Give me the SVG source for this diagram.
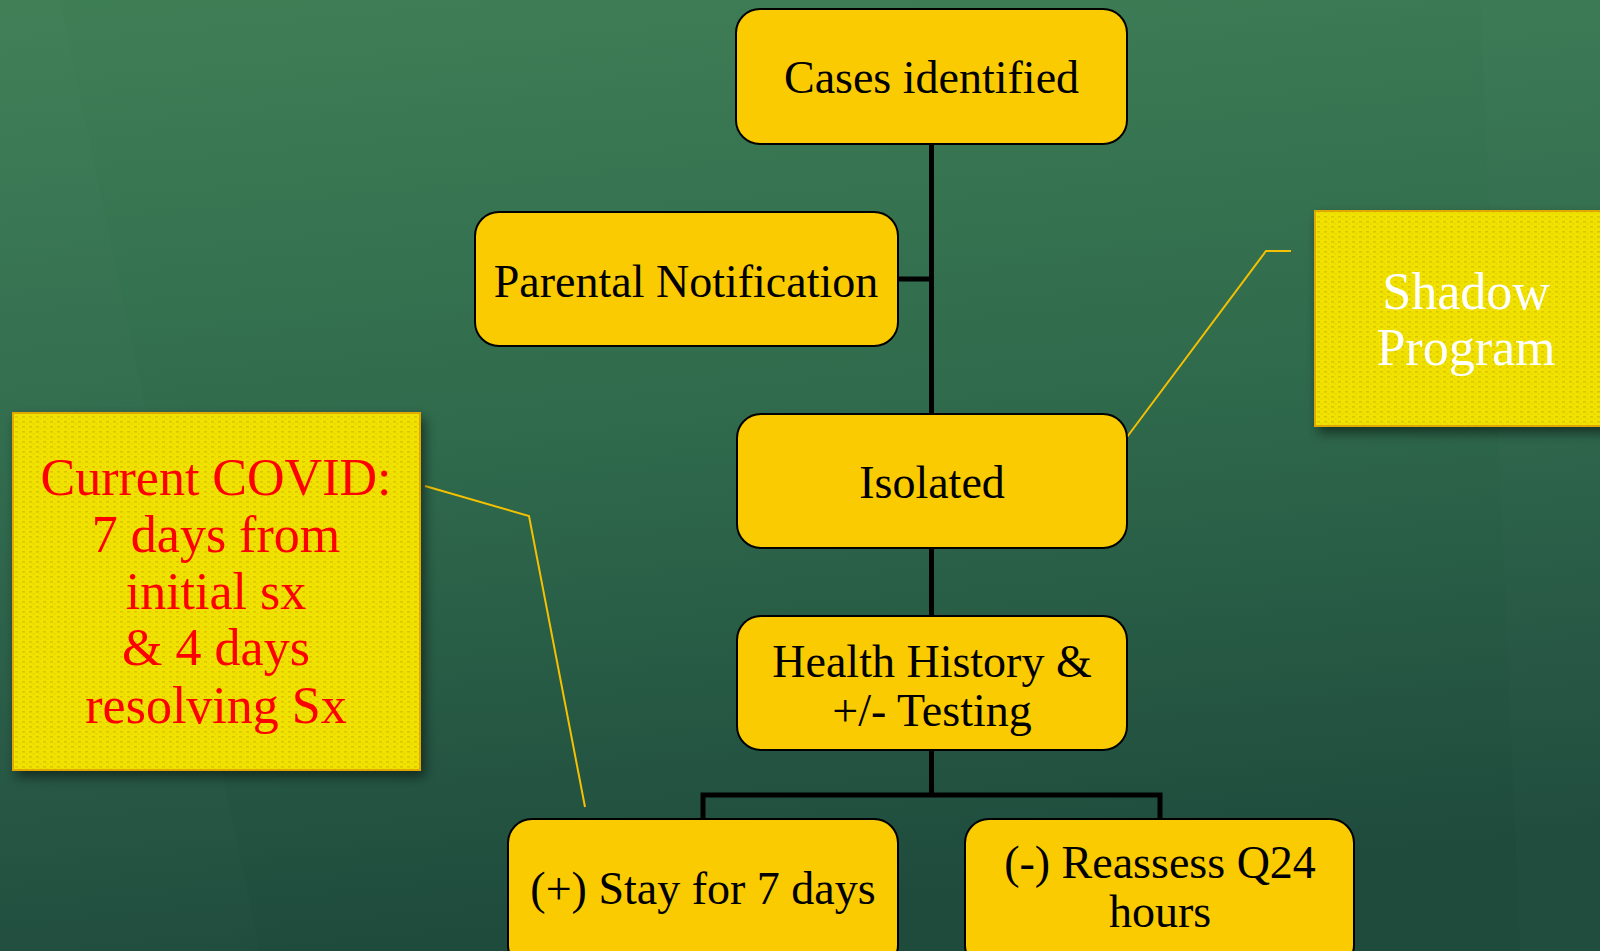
<svg xmlns="http://www.w3.org/2000/svg" width="1600" height="951" viewBox="0 0 1600 951">
  <defs>
    <linearGradient id="bg" x1="0" y1="0" x2="0.15" y2="1">
      <stop offset="0" stop-color="#3f7f56"/>
      <stop offset="0.5" stop-color="#2f6a4c"/>
      <stop offset="1" stop-color="#1f4b3d"/>
    </linearGradient>
    <pattern id="weave" width="7" height="5" patternUnits="userSpaceOnUse">
      <rect width="7" height="5" fill="#f1e300"/>
      <rect x="1" y="1" width="3" height="1.6" fill="#d4b000" opacity="0.6"/>
      <rect x="4.5" y="3.3" width="2" height="1.2" fill="#dcbc00" opacity="0.5"/>
    </pattern>
    <filter id="shadow" x="-10%" y="-10%" width="130%" height="130%">
      <feDropShadow dx="4" dy="6" stdDeviation="6" flood-color="#000" flood-opacity="0.5"/>
    </filter>
    <style>
      .box { fill: #facb00; stroke: #000; stroke-width: 2; }
      .t { font-family: "Liberation Serif", "Times New Roman", serif; font-size: 46px; fill: #000; text-anchor: middle; }
      .note { fill: url(#weave); stroke: #e0a800; stroke-width: 2; filter: url(#shadow); }
      .nt { font-family: "Liberation Serif", "Times New Roman", serif; font-size: 52px; text-anchor: middle; }
      .conn { stroke: #000; stroke-width: 5; fill: none; }
      .call { stroke: #f5c000; stroke-width: 2; fill: none; }
    </style>
  </defs>

  <rect width="1600" height="951" fill="url(#bg)"/>
  <polygon points="0,0 60,0 260,951 0,951" fill="#ffffff" opacity="0.012"/>
  <polygon points="1480,0 1600,0 1600,951 1520,951" fill="#ffffff" opacity="0.01"/>

  <g id="connectors">
    <line class="conn" x1="931.5" y1="144" x2="931.5" y2="414"/>
    <line class="conn" x1="898" y1="279" x2="931.5" y2="279"/>
    <line class="conn" x1="931.5" y1="548" x2="931.5" y2="616"/>
    <polyline class="conn" points="931.5,750 931.5,795"/>
    <polyline class="conn" points="703,819 703,795 1160,795 1160,819"/>
    <polyline class="call" points="1291,251 1266,251 1127,437"/>
    <polyline class="call" points="425,486 529,516 585,807"/>
  </g>

  <g id="cases">
    <rect class="box" x="736" y="9" width="391" height="135" rx="24"/>
    <text class="t" x="931.5" y="93">Cases identified</text>
  </g>
  <g id="parental">
    <rect class="box" x="475" y="212" width="423" height="134" rx="24"/>
    <text class="t" x="686" y="297">Parental Notification</text>
  </g>
  <g id="isolated">
    <rect class="box" x="737" y="414" width="390" height="134" rx="24"/>
    <text class="t" x="932" y="498">Isolated</text>
  </g>
  <g id="health">
    <rect class="box" x="737" y="616" width="390" height="134" rx="24"/>
    <text class="t" x="932" y="677">Health History &amp;</text>
    <text class="t" x="932" y="726">+/- Testing</text>
  </g>
  <g id="stay">
    <rect class="box" x="508" y="819" width="390" height="150" rx="24"/>
    <text class="t" x="703" y="904">(+) Stay for 7 days</text>
  </g>
  <g id="reassess">
    <rect class="box" x="965" y="819" width="389" height="150" rx="24"/>
    <text class="t" x="1160" y="878">(-) Reassess Q24</text>
    <text class="t" x="1160" y="927">hours</text>
  </g>
  <g id="shadow-program">
    <rect class="note" x="1315" y="211" width="300" height="215"/>
    <text class="nt" x="1466" y="309" fill="#ffffff">Shadow</text>
    <text class="nt" x="1466" y="365" fill="#ffffff">Program</text>
  </g>
  <g id="current-covid">
    <rect class="note" x="13" y="413" width="407" height="357"/>
    <text class="nt" x="216" y="495" fill="#ff0000">Current COVID:</text>
    <text class="nt" x="216" y="552" fill="#ff0000">7 days from</text>
    <text class="nt" x="216" y="609" fill="#ff0000">initial sx</text>
    <text class="nt" x="216" y="665" fill="#ff0000">&amp; 4 days</text>
    <text class="nt" x="216" y="723" fill="#ff0000">resolving Sx</text>
  </g>
</svg>
